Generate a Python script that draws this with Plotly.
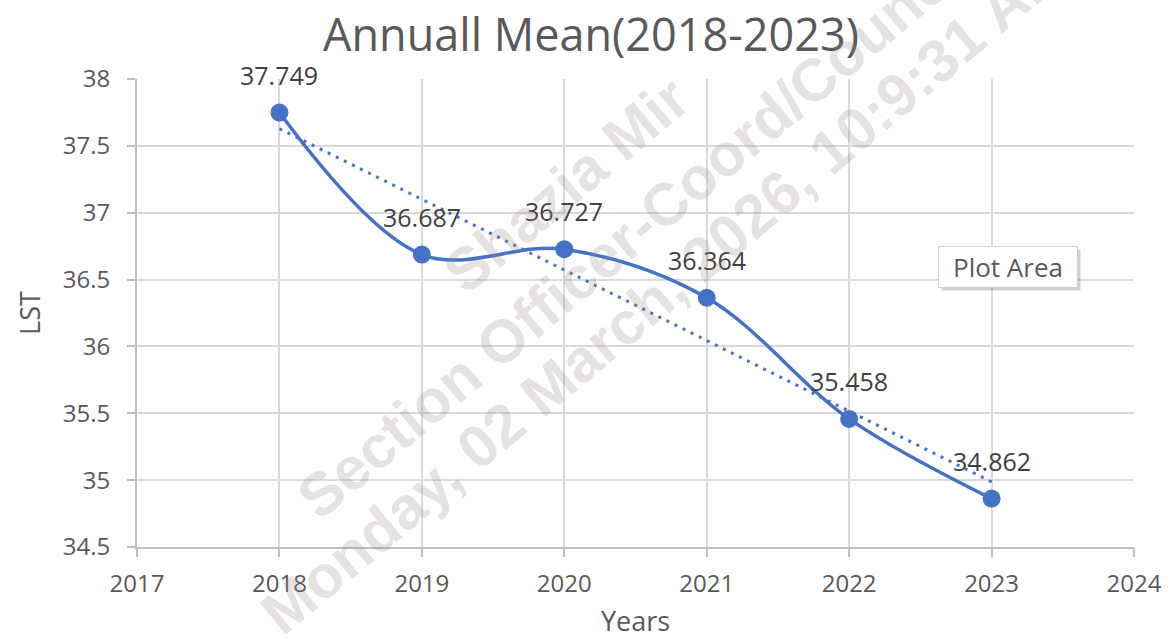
import numpy as np
import plotly.graph_objects as go

# ---- data -------------------------------------------------------------
years = [2018, 2019, 2020, 2021, 2022, 2023]
lst_mean = [37.749, 36.687, 36.727, 36.364, 35.458, 34.862]

x_ticks = [2017, 2018, 2019, 2020, 2021, 2022, 2023, 2024]
y_ticks = [34.5, 35, 35.5, 36, 36.5, 37, 37.5, 38]
y_tick_labels = ["34.5", "35", "35.5", "36", "36.5", "37", "37.5", "38"]

watermark_lines = [
    "Shazia Mir",
    "Section Officer-Coord/Council",
    "Monday, 02 March, 2026, 10:9:31 AM",
]

# linear trendline fitted to the annual means
slope, intercept = np.polyfit(years, lst_mean, 1)
trend_x = [years[0], years[-1]]
trend_y = [slope * x + intercept for x in trend_x]

# ---- styling ----------------------------------------------------------
BLUE = "#4472C4"
TEXT = "#595959"
GRID = "#d9d9d9"
AXIS = "#bfbfbf"
FONT = "Open Sans"

W, H = 1171, 641
ML, MR, MT, MB = 137, 37, 79, 94
PW, PH = W - ML - MR, H - MT - MB


def px_to_paper(px, py):
    return (px - ML) / PW, (H - MB - py) / PH


fig = go.Figure()

fig.add_trace(go.Scatter(
    x=trend_x, y=trend_y, mode="lines",
    line=dict(color=BLUE, width=3, dash="3px,6px"),
    hoverinfo="skip", showlegend=False,
))

fig.add_trace(go.Scatter(
    x=years, y=lst_mean, mode="lines+markers",
    line=dict(color=BLUE, width=3.5, shape="spline", smoothing=1),
    marker=dict(size=18, color=BLUE),
    showlegend=False,
))

# value labels above each point
for x, y in zip(years, lst_mean):
    fig.add_annotation(
        x=x, y=y, text=f"{y:.3f}", showarrow=False, yshift=38,
        font=dict(family=FONT, size=25, color="#404040"),
    )

# "Plot Area" tooltip with a soft drop shadow
bx, by = px_to_paper(1008, 267)
for shadow in (True, False):
    fig.add_annotation(
        xref="paper", yref="paper", x=bx, y=by,
        xanchor="center", yanchor="middle",
        text="Plot Area", showarrow=False,
        xshift=3 if shadow else 0, yshift=-3 if shadow else 0,
        width=136, height=38, borderpad=1,
        bgcolor="rgba(0,0,0,0.18)" if shadow else "white",
        bordercolor="rgba(0,0,0,0)" if shadow else "#d0d0d0",
        borderwidth=1,
        font=dict(family=FONT, size=26,
                  color="rgba(0,0,0,0)" if shadow else TEXT),
    )

# diagonal watermark
wm_centers = [(566, 185), (636, 230), (664, 290)]
for line, (cx, cy) in zip(watermark_lines, wm_centers):
    wx, wy = px_to_paper(cx, cy)
    fig.add_annotation(
        xref="paper", yref="paper", x=wx, y=wy,
        text=line, showarrow=False, textangle=-40,
        xanchor="center", yanchor="middle",
        font=dict(family="Liberation Sans", size=60, weight="bold",
                  color="rgba(150,135,135,0.24)"),
    )

axis_common = dict(
    showgrid=True, gridcolor=GRID, gridwidth=2,
    showline=True, linecolor=AXIS, linewidth=2,
    ticks="outside", ticklen=8, tickcolor=AXIS, tickwidth=2,
    tickfont=dict(family=FONT, size=24, color=TEXT),
    zeroline=False, automargin=False,
)

fig.update_layout(
    width=W, height=H,
    margin=dict(l=ML, r=MR, t=MT, b=MB),
    paper_bgcolor="white", plot_bgcolor="white",
    title=dict(
        text="Annuall Mean(2018-2023)",
        x=591 / W, xanchor="center", y=1 - 35 / H, yanchor="middle",
        font=dict(family=FONT, size=45, color=TEXT),
    ),
    xaxis=dict(
        range=[2017, 2024], tickvals=x_ticks,
        ticktext=[str(t) for t in x_ticks],
        title=dict(text="Years", font=dict(family=FONT, size=27, color=TEXT),
                   standoff=14),
        ticklabelstandoff=6,
        **axis_common,
    ),
    yaxis=dict(
        range=[34.5, 38], tickvals=y_ticks, ticktext=y_tick_labels,
        title=dict(text="LST", font=dict(family=FONT, size=27, color=TEXT),
                   standoff=14),
        ticklabelstandoff=12,
        **axis_common,
    ),
)

fig.write_html("out.html")
